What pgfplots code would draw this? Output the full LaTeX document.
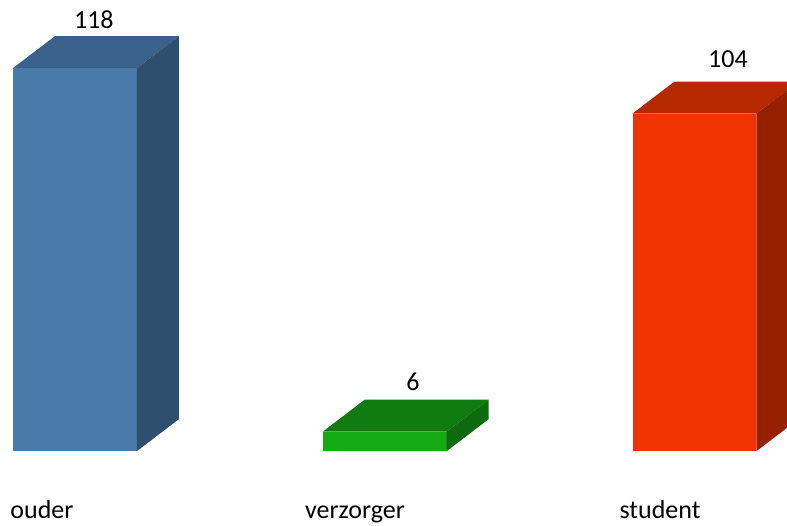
\documentclass[border=0pt]{standalone}
\usepackage{pgfplots}
\pgfplotsset{compat=1.18}
\usepackage{fontspec}
\setmainfont{Carlito}

% front / top / side colours of the three bars
\definecolor{bluefront}{HTML}{4A7BA8}
\definecolor{bluetop}{HTML}{3A6189}
\definecolor{blueside}{HTML}{2E4F6E}
\definecolor{greenfront}{HTML}{14AA14}
\definecolor{greentop}{HTML}{107B10}
\definecolor{greenside}{HTML}{0D6A0D}
\definecolor{redfront}{HTML}{F03300}
\definecolor{redtop}{HTML}{B52800}
\definecolor{redside}{HTML}{972000}

\newcommand{\lbl}{\fontsize{26bp}{30bp}\selectfont}

\begin{document}
\begin{tikzpicture}
\begin{axis}[
    scale only axis,
    width=787bp, height=523bp,
    xmin=-0.2421, xmax=2.2986,
    ymin=-22.18, ymax=138.94,
    axis line style={draw=none},
    ytick=\empty,
    xtick={-0.1065,0.904,1.8886},
    xticklabels={ouder,verzorger,student},
    major tick length=0pt,
    xticklabel style={font=\lbl, anchor=base, yshift=5bp},
    ]
    % ouder = 118
    \addplot[fill=bluefront, draw=none] coordinates {(-0.2,0) (0.2,0) (0.2,118) (-0.2,118)} -- cycle;
    \addplot[fill=bluetop, draw=none] coordinates {(-0.2,118) (0.2,118) (0.3356,127.86) (-0.0644,127.86)} -- cycle;
    \addplot[fill=blueside, draw=none] coordinates {(0.2,0) (0.3356,9.86) (0.3356,127.86) (0.2,118)} -- cycle;
    % verzorger = 6
    \addplot[fill=greenfront, draw=none] coordinates {(0.8,0) (1.2,0) (1.2,6) (0.8,6)} -- cycle;
    \addplot[fill=greentop, draw=none] coordinates {(0.8,6) (1.2,6) (1.3356,15.86) (0.9356,15.86)} -- cycle;
    \addplot[fill=greenside, draw=none] coordinates {(1.2,0) (1.3356,9.86) (1.3356,15.86) (1.2,6)} -- cycle;
    % student = 104
    \addplot[fill=redfront, draw=none] coordinates {(1.8,0) (2.2,0) (2.2,104) (1.8,104)} -- cycle;
    \addplot[fill=redtop, draw=none] coordinates {(1.8,104) (2.2,104) (2.3356,113.86) (1.9356,113.86)} -- cycle;
    \addplot[fill=redside, draw=none] coordinates {(2.2,0) (2.3356,9.86) (2.3356,113.86) (2.2,104)} -- cycle;
    % value labels
    \node[font=\lbl, anchor=base] at (axis cs:0.061,130.3) {118};
    \node[font=\lbl, anchor=base] at (axis cs:1.091,18.8) {6};
    \node[font=\lbl, anchor=base] at (axis cs:2.108,118.3) {104};
\end{axis}
\end{tikzpicture}
\end{document}
